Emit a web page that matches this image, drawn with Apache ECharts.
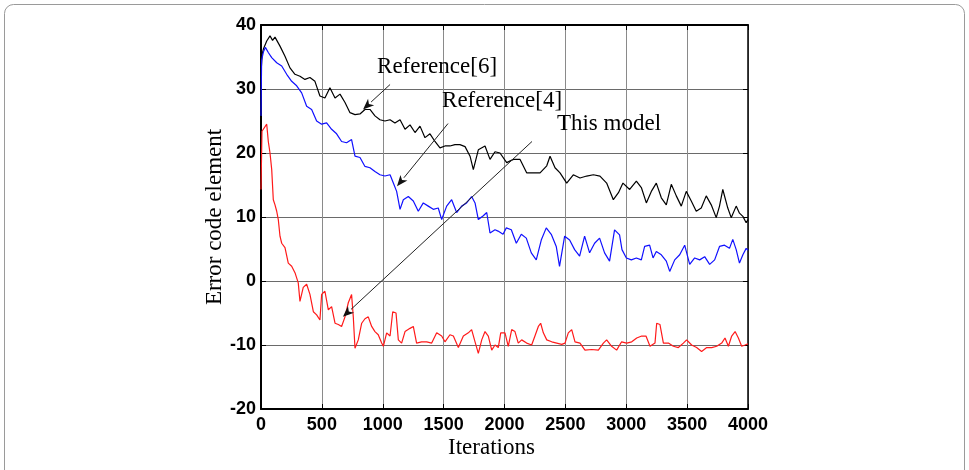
<!DOCTYPE html>
<html>
<head>
<meta charset="utf-8">
<script src="https://cdn.jsdelivr.net/npm/echarts@6/dist/echarts.min.js"></script>
<style>
html,body{margin:0;padding:0;background:#fff;}
#main{width:969px;height:470px;}
</style>
</head>
<body>
<div id="main"></div>
<script>
// ---- data ----
var xTicks = [0, 500, 1000, 1500, 2000, 2500, 3000, 3500, 4000];
var yTicks = [-20, -10, 0, 10, 20, 30, 40];

var ref6Iter = [0,10,19,47,74,95,115,156,197,238,279,320,361,402,443,484,525,566,608,649,690,731,772,813,854,895,936,977,1018,1060,1100,1142,1183,1224,1265,1306,1347,1388,1429,1470,1511,1552,1593,1634,1676,1717,1744,1785,1840,1881,1922,1963,2018,2073,2128,2182,2237,2292,2347,2374,2415,2456,2511,2565,2620,2675,2730,2784,2839,2894,2936,2973,3028,3083,3124,3165,3206,3247,3288,3329,3370,3411,3452,3493,3534,3575,3616,3657,3698,3739,3766,3793,3834,3862,3903,3930,3958,3985,4000];
var ref6Vals = [32.5,35.5,36.2,37.5,38.3,37.6,38.1,36.7,35.1,33.3,32.3,32.0,31.5,31.8,31.2,28.9,28.6,30.2,28.6,29.2,27.9,26.3,26.0,26.1,26.8,26.8,25.8,25.2,25.0,25.2,24.7,25.2,23.7,24.4,23.2,24.2,22.4,23.0,21.8,20.8,21.1,21.1,21.3,21.3,21.0,19.5,17.4,20.5,21.1,19.0,20.2,20.0,18.5,19.0,19.0,16.9,16.9,16.9,18.0,19.5,17.7,16.9,15.3,16.6,16.1,16.4,16.6,16.4,15.3,12.7,13.8,15.3,14.3,15.6,14.6,12.2,14.0,15.3,13.0,11.9,15.1,13.3,11.7,14.0,12.5,10.9,11.4,13.3,11.9,9.9,11.7,14.3,11.4,9.9,11.7,10.6,10.1,9.1,9.6];

var ref4Iter = [0,5,20,36,60,88,129,170,211,252,293,334,375,416,457,498,539,580,621,662,703,744,772,813,854,895,936,977,1018,1060,1087,1114,1142,1169,1210,1251,1292,1333,1374,1415,1456,1484,1525,1566,1607,1648,1689,1730,1758,1785,1826,1854,1881,1922,1947,1988,2015,2056,2097,2138,2179,2220,2261,2302,2343,2384,2425,2452,2494,2535,2576,2617,2658,2699,2740,2781,2822,2863,2904,2945,2965,3001,3042,3083,3124,3151,3192,3220,3247,3288,3329,3357,3398,3439,3480,3521,3562,3603,3644,3685,3726,3766,3807,3848,3875,3903,3930,3958,3985,4000];
var ref4Vals = [25.8,34.5,35.8,36.5,35.7,34.9,34.1,33.6,32.3,31.2,30.5,29.4,27.3,26.8,25.0,24.5,24.7,23.7,23.0,21.8,21.6,22.1,19.5,19.3,17.9,17.7,17.1,16.6,16.4,16.6,15.3,14.0,11.2,12.7,13.2,12.5,10.9,12.2,11.7,11.2,11.4,9.6,11.7,12.7,10.7,11.7,12.2,13.2,12.2,9.6,10.2,10.7,7.5,8.0,7.8,7.3,8.3,8.0,5.9,7.3,6.7,4.4,3.3,6.4,8.3,7.3,5.4,2.3,7.0,6.4,4.9,3.9,7.0,4.4,5.9,6.7,4.4,3.1,8.0,7.2,4.9,3.6,3.3,3.6,3.3,5.4,5.6,3.6,4.6,4.1,3.1,1.5,3.3,4.1,5.6,2.6,3.6,3.3,3.8,2.6,3.3,5.4,5.6,5.1,6.5,4.9,2.8,4.1,5.1,4.8];

var modelIter = [0,8,19,47,60,74,88,101,115,129,142,156,170,197,224,252,279,306,320,347,375,402,430,457,484,498,525,553,580,608,635,662,690,717,744,758,772,799,827,854,881,909,936,963,991,1005,1032,1060,1082,1109,1128,1155,1183,1224,1251,1278,1319,1361,1402,1443,1484,1511,1552,1580,1621,1662,1703,1730,1758,1785,1813,1840,1867,1895,1922,1949,1969,2004,2031,2059,2086,2113,2141,2182,2223,2250,2278,2297,2319,2347,2388,2429,2470,2497,2524,2552,2579,2620,2661,2716,2771,2812,2839,2880,2921,2962,3004,3045,3086,3127,3162,3195,3236,3250,3277,3305,3346,3387,3428,3469,3496,3537,3578,3619,3661,3702,3743,3784,3811,3839,3866,3894,3921,3948,3976,4000];
var modelVals = [14.3,23.4,23.6,24.5,21.8,20.0,17.4,12.7,11.9,10.9,9.6,7.0,5.9,5.2,2.8,2.3,1.3,-0.3,-3.2,-1.0,-0.5,-2.1,-4.8,-5.3,-6.1,-2.1,-1.6,-4.5,-4.0,-6.6,-6.8,-7.1,-5.6,-3.4,-2.1,-5.6,-10.5,-9.2,-6.6,-5.9,-5.6,-7.1,-7.9,-8.4,-9.7,-10.2,-8.1,-8.6,-4.8,-5.0,-9.2,-9.7,-7.9,-7.4,-7.1,-9.7,-9.5,-9.5,-9.7,-8.1,-8.6,-9.5,-8.4,-8.6,-10.4,-8.6,-8.1,-7.6,-9.5,-11.3,-9.2,-7.9,-8.6,-10.8,-10.0,-10.4,-8.1,-8.1,-10.2,-7.6,-7.9,-9.7,-9.2,-9.7,-10.0,-8.6,-7.1,-6.6,-8.1,-9.2,-9.5,-9.7,-9.9,-9.7,-8.1,-7.6,-9.5,-9.7,-10.8,-10.7,-10.8,-9.7,-9.2,-10.2,-10.8,-9.5,-9.7,-9.5,-8.9,-8.6,-8.6,-10.2,-9.7,-6.6,-6.8,-9.7,-9.7,-10.2,-10.4,-9.7,-9.2,-10.0,-10.4,-11.0,-10.4,-10.4,-10.2,-9.7,-8.9,-10.2,-8.6,-7.9,-8.9,-10.2,-10.0,-9.8];

// annotations: label, text centre (data), arrow tail (data), arrow tip (data)
var annLabels = ['Reference[6]', 'Reference[4]', 'This model'];
var annTextPos = [[1446, 33.5], [1980, 28.1], [2858, 24.5]];
var annTail = [[1060, 30.7], [1536, 24.6], [2226, 21.8]];
var annTip = [[838, 26.8], [1117, 14.8], [673, -5.6]];

function pairs(xs, ys) { return xs.map(function (x, i) { return [x, ys[i]]; }); }

var chart = echarts.init(document.getElementById('main'), null, {renderer: 'canvas'});
var tickFont = {fontFamily: 'Liberation Sans', fontWeight: 'bold', fontSize: 18, color: '#000'};
var nameFont = {fontFamily: 'Liberation Serif', fontSize: 23, color: '#000'};

var option = {
  backgroundColor: '#fff',
  animation: false,
  grid: {left: 261, right: 221, top: 25, bottom: 61, containLabel: false},
  xAxis: [{
    type: 'value', min: 0, max: 4000, interval: 500, position: 'bottom',
    name: 'Iterations', nameLocation: 'middle', nameGap: 27, nameMoveOverlap: false,
    nameTextStyle: Object.assign({padding: [0, 26, 0, 0]}, nameFont),
    axisLine: {show: true, onZero: false, lineStyle: {color: '#000', width: 2}},
    axisTick: {show: true, inside: true, length: 5, lineStyle: {color: '#000'}},
    axisLabel: Object.assign({margin: 7, formatter: function (v) { return xTicks.indexOf(v) >= 0 ? String(v) : ''; }}, tickFont),
    splitLine: {show: true, lineStyle: {color: '#8a8a8a', width: 1}}
  }, {
    type: 'value', min: 0, max: 4000, interval: 500, position: 'top',
    axisLine: {show: true, onZero: false, lineStyle: {color: '#000', width: 2}},
    axisTick: {show: true, inside: true, length: 5, lineStyle: {color: '#000'}},
    axisLabel: {show: false}, splitLine: {show: false}
  }],
  yAxis: [{
    type: 'value', min: -20, max: 40, interval: 10, position: 'left',
    name: 'Error code element', nameLocation: 'middle', nameGap: 35, nameMoveOverlap: false,
    nameTextStyle: nameFont,
    axisLine: {show: true, onZero: false, lineStyle: {color: '#000', width: 2}},
    axisTick: {show: true, inside: true, length: 5, lineStyle: {color: '#000'}},
    axisLabel: Object.assign({margin: 5, formatter: function (v) { return yTicks.indexOf(v) >= 0 ? String(v) : ''; }}, tickFont),
    splitLine: {show: true, lineStyle: {color: '#6a6a6a', width: 1}}
  }, {
    type: 'value', min: -20, max: 40, interval: 10, position: 'right',
    axisLine: {show: true, onZero: false, lineStyle: {color: '#000', width: 1.5}},
    axisTick: {show: true, inside: true, length: 5, lineStyle: {color: '#000'}},
    axisLabel: {show: false}, splitLine: {show: false}
  }],
  series: [
    {name: 'Reference[6]', type: 'line', data: pairs(ref6Iter, ref6Vals), showSymbol: false, lineStyle: {color: '#000000', width: 1.2}, itemStyle: {color: '#000'}, z: 3},
    {name: 'Reference[4]', type: 'line', data: pairs(ref4Iter, ref4Vals), showSymbol: false, lineStyle: {color: '#1010ff', width: 1.2}, itemStyle: {color: '#1010ff'}, z: 3},
    {name: 'This model', type: 'line', data: pairs(modelIter, modelVals), showSymbol: false, lineStyle: {color: '#ff1a1a', width: 1.2}, itemStyle: {color: '#ff1a1a'}, z: 3}
  ]
};
chart.setOption(option);

function px(p) { return chart.convertToPixel({gridIndex: 0}, p); }
var g = [];
// outer rounded frame
g.push({type: 'rect', shape: {x: 4.5, y: 4.5, width: 960, height: 490, r: 9}, style: {fill: 'none', stroke: '#9a9a9a', lineWidth: 1}, z: 0, silent: true});
for (var i = 0; i < annLabels.length; i++) {
  var tp = px(annTextPos[i]), a = px(annTail[i]), b = px(annTip[i]);
  g.push({type: 'text', x: tp[0], y: tp[1], style: {text: annLabels[i], fontFamily: 'Liberation Serif', fontSize: 23, fill: '#000', align: 'center', verticalAlign: 'middle', backgroundColor: 'transparent'}, z: 10});
  var dx = b[0] - a[0], dy = b[1] - a[1], L = Math.sqrt(dx * dx + dy * dy), ux = dx / L, uy = dy / L;
  var hl = 11, hw = 4.5;
  var bx = b[0] - ux * hl, by = b[1] - uy * hl;
  g.push({type: 'line', shape: {x1: a[0], y1: a[1], x2: bx, y2: by}, style: {stroke: '#222', lineWidth: 1}, z: 10});
  g.push({type: 'polygon', shape: {points: [[b[0], b[1]], [bx - uy * hw, by + ux * hw], [bx + ux * 3, by + uy * 3], [bx + uy * hw, by - ux * hw]]}, style: {fill: '#111'}, z: 10});
}
chart.setOption({graphic: g});
</script>
</body>
</html>
